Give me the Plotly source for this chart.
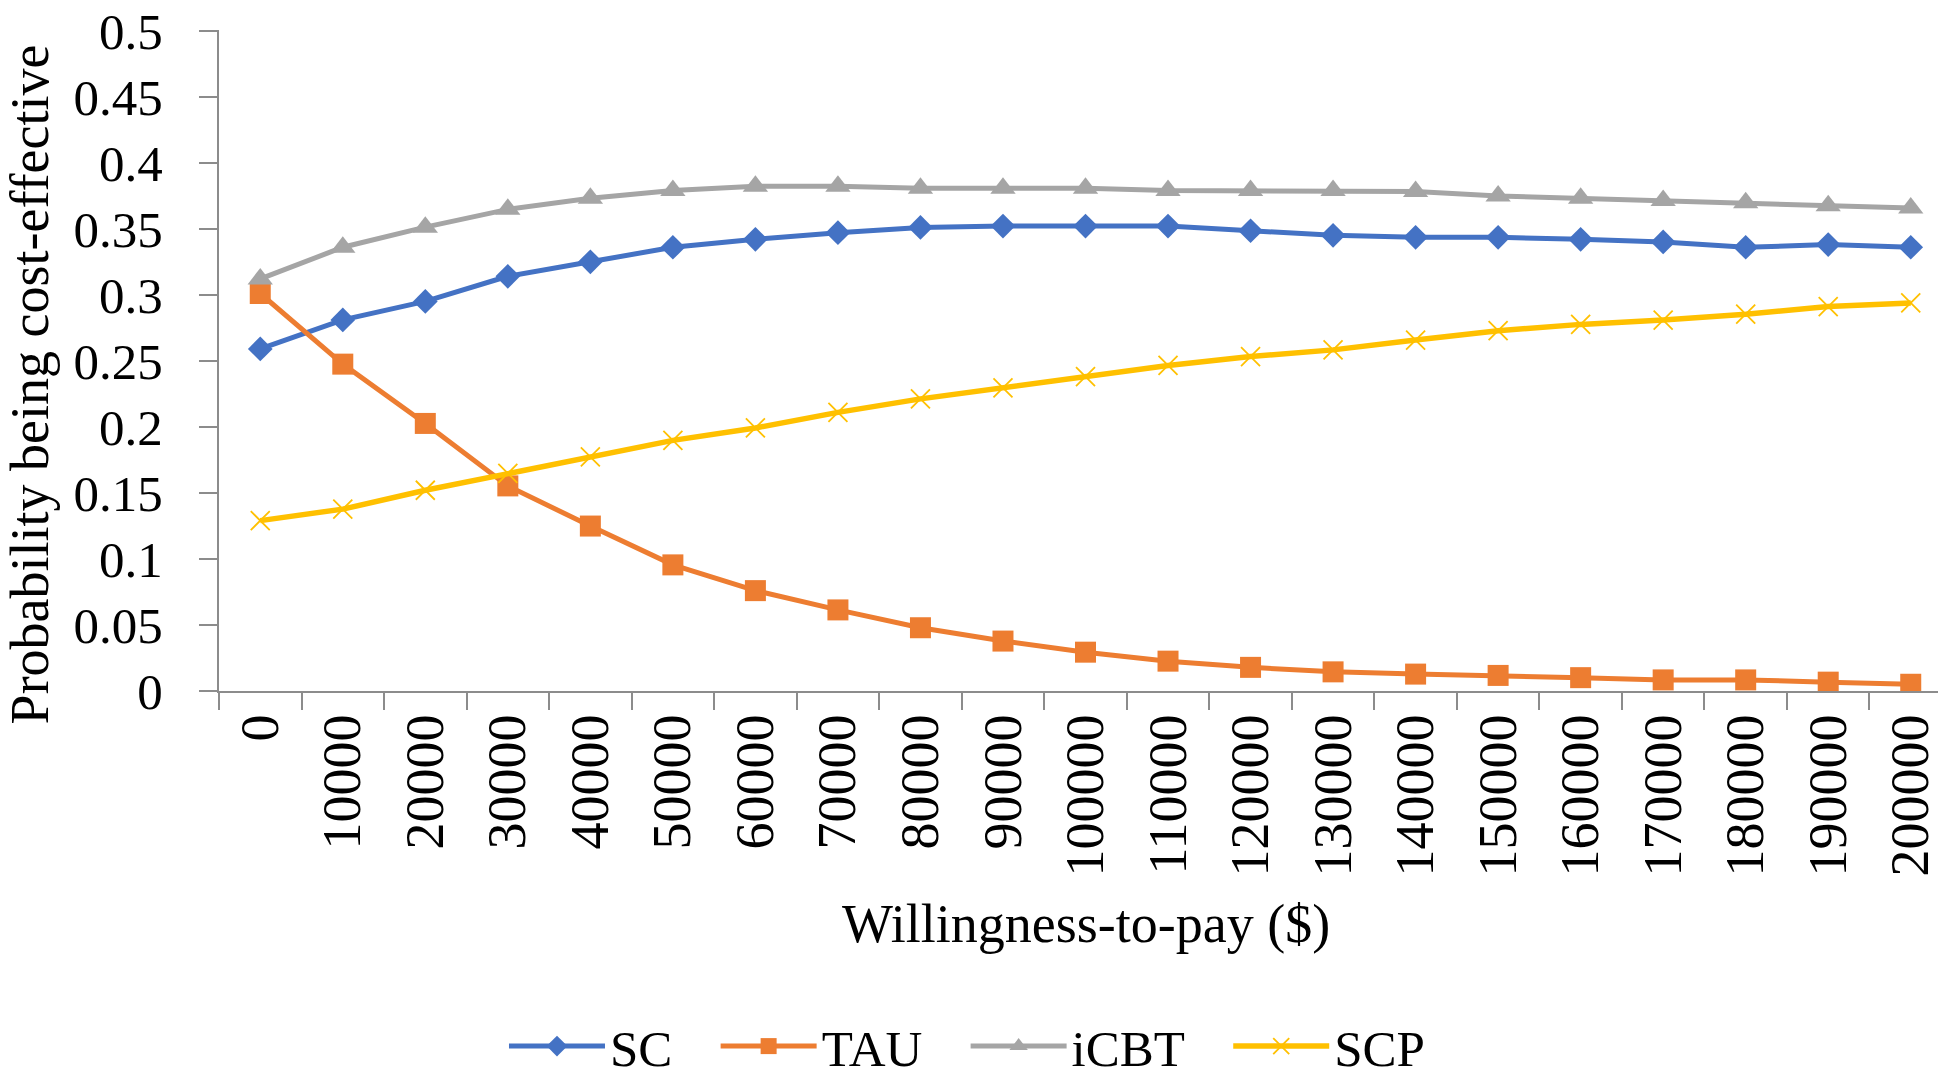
import plotly.graph_objects as go

wtp = ["0", "10000", "20000", "30000", "40000", "50000", "60000", "70000", "80000", "90000",
       "100000", "110000", "120000", "130000", "140000", "150000", "160000", "170000", "180000",
       "190000", "200000"]

sc = [0.259, 0.281, 0.295, 0.314, 0.325, 0.336, 0.342, 0.347, 0.351, 0.352,
      0.352, 0.352, 0.3485, 0.345, 0.3435, 0.3435, 0.342, 0.340, 0.336, 0.338, 0.336]
tau = [0.301, 0.2475, 0.2026, 0.1553, 0.1249, 0.0955, 0.076, 0.0614, 0.0479, 0.0378,
       0.0294, 0.0226, 0.0179, 0.0145, 0.0128, 0.0118, 0.0101, 0.0084, 0.0084, 0.0067, 0.0051]
icbt = [0.312, 0.336, 0.3512, 0.3647, 0.3731, 0.3789, 0.3822, 0.3822, 0.3806, 0.3806,
        0.3806, 0.3789, 0.3789, 0.3789, 0.3782, 0.3748, 0.3731, 0.3714, 0.3697, 0.3674, 0.3657]
scp = [0.129, 0.1377, 0.152, 0.1648, 0.1773, 0.1898, 0.1992, 0.211, 0.2212, 0.2296,
       0.238, 0.2465, 0.2532, 0.2583, 0.2657, 0.2728, 0.2776, 0.2809, 0.2853, 0.2911, 0.2938]

yticks = [0, 0.05, 0.1, 0.15, 0.2, 0.25, 0.3, 0.35, 0.4, 0.45, 0.5]
yticktext = ["0", "0.05", "0.1", "0.15", "0.2", "0.25", "0.3", "0.35", "0.4", "0.45", "0.5"]

FONT = "Liberation Serif"
AXC = "#8c8c8c"
PAD = "\u00a0\u00a0\u00a0"

fig = go.Figure()
fig.add_trace(go.Scatter(x=wtp, y=sc, name="SC" + PAD, mode="lines+markers",
                         line=dict(color="#4472C4", width=5),
                         marker=dict(symbol="diamond", size=19, color="#4472C4", line=dict(width=0))))
fig.add_trace(go.Scatter(x=wtp, y=tau, name="TAU" + PAD, mode="lines+markers",
                         line=dict(color="#ED7D31", width=5),
                         marker=dict(symbol="square", size=21, color="#ED7D31", line=dict(width=0))))
fig.add_trace(go.Scatter(x=wtp, y=icbt, name="iCBT" + PAD, mode="lines+markers",
                         line=dict(color="#A5A5A5", width=5),
                         marker=dict(symbol="triangle-up", size=22, color="#A5A5A5", line=dict(width=0))))
fig.add_trace(go.Scatter(x=wtp, y=scp, name="SCP", mode="lines+markers",
                         line=dict(color="#FFC000", width=5.5),
                         marker=dict(symbol="x-thin", size=19, color="#FFC000",
                                     line=dict(width=1.8, color="#FFC000"))))

fig.update_layout(
    width=1946, height=1075,
    margin=dict(l=211, r=2, t=22, b=392, autoexpand=False),
    paper_bgcolor="white", plot_bgcolor="white",
    font=dict(family=FONT, size=51, color="black"),
    showlegend=True,
    legend=dict(orientation="h", x=0.4928, xref="container", xanchor="center",
                y=0.034, yref="container", yanchor="middle",
                font=dict(family=FONT, size=51, color="black"),
                itemwidth=96, tracegroupgap=0),
    xaxis=dict(type="category", range=[-0.5, 20.5], tickson="boundaries",
               ticks="outside", ticklen=17, tickwidth=2, tickcolor=AXC,
               showline=True, linecolor=AXC, linewidth=2, showgrid=False,
               tickangle=-90, tickfont=dict(family=FONT, size=54, color="black"),
               ticklabelstandoff=0, zeroline=False, automargin=False, nticks=30,
               ticklabeloverflow="allow"),
    yaxis=dict(range=[0, 0.5005], tickvals=yticks, ticktext=yticktext,
               ticks="outside", ticklen=18, tickwidth=2, tickcolor=AXC,
               showline=True, linecolor=AXC, linewidth=2, showgrid=False,
               tickfont=dict(family=FONT, size=51, color="black"),
               ticklabelstandoff=26, zeroline=False, automargin=False,
               ticklabeloverflow="allow"),
    annotations=[
        dict(text="Probability being cost-effective", textangle=-90, showarrow=False,
             xref="paper", yref="paper", x=-0.109, y=0.464, xanchor="center", yanchor="middle",
             font=dict(family=FONT, size=54, color="black")),
        dict(text="Willingness-to-pay ($)", showarrow=False,
             xref="paper", yref="paper", x=0.5, y=-0.352, xanchor="center", yanchor="middle",
             font=dict(family=FONT, size=54, color="black")),
    ],
)

fig.write_html("out.html")
